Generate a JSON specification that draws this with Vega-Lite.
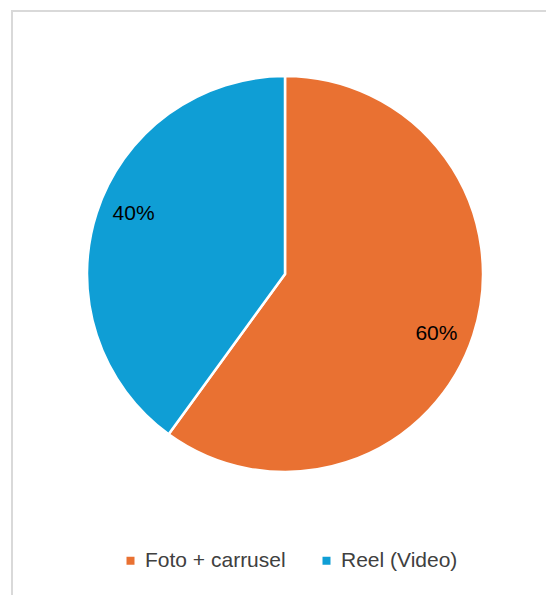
{
  "$schema": "https://vega.github.io/schema/vega-lite/v6.json",
  "width": 546,
  "height": 595,
  "autosize": {"type": "fit", "contains": "padding"},
  "padding": {"left": 12, "top": 11, "right": -3, "bottom": -3},
  "background": "white",
  "config": {"view": {"stroke": "#d9d9d9", "strokeWidth": 2}},
  "data": {
    "values": [
      {"tipo": "Foto + carrusel", "valor": 0.6, "orden": 1},
      {"tipo": "Reel (Video)", "valor": 0.4, "orden": 2}
    ]
  },
  "encoding": {
    "theta": {"field": "valor", "type": "quantitative", "stack": true},
    "order": {"field": "orden", "type": "quantitative", "sort": "ascending"},
    "x": {"datum": 0, "type": "quantitative", "scale": {"domain": [-273, 264], "nice": false, "zero": false}, "axis": null},
    "y": {"datum": 0, "type": "quantitative", "scale": {"domain": [-324, 263], "nice": false, "zero": false}, "axis": null}
  },
  "layer": [
    {
      "mark": {"type": "arc", "outerRadius": 198, "stroke": "white", "strokeWidth": 2.5},
      "encoding": {
        "color": {
          "field": "tipo",
          "type": "nominal",
          "scale": {"domain": ["Foto + carrusel", "Reel (Video)"], "range": ["#E97132", "#0F9ED5"]},
          "legend": {
            "orient": "none",
            "legendX": 108,
            "legendY": 539,
            "direction": "horizontal",
            "title": null,
            "symbolType": "square",
            "symbolSize": 64,
            "symbolStrokeWidth": 0,
            "labelFontSize": 21,
            "labelFont": "Liberation Sans",
            "labelColor": "#404040",
            "labelOffset": 4,
            "columnPadding": 30,
            "labelLimit": 400,
            "padding": 0
          }
        }
      }
    },
    {
      "mark": {"type": "text", "radius": 163, "thetaOffset": 0.065, "fontSize": 21, "font": "Liberation Sans", "color": "#000000"},
      "encoding": {
        "detail": {"field": "tipo", "type": "nominal"},
        "text": {"field": "valor", "type": "quantitative", "format": ".0%"}
      }
    }
  ]
}
